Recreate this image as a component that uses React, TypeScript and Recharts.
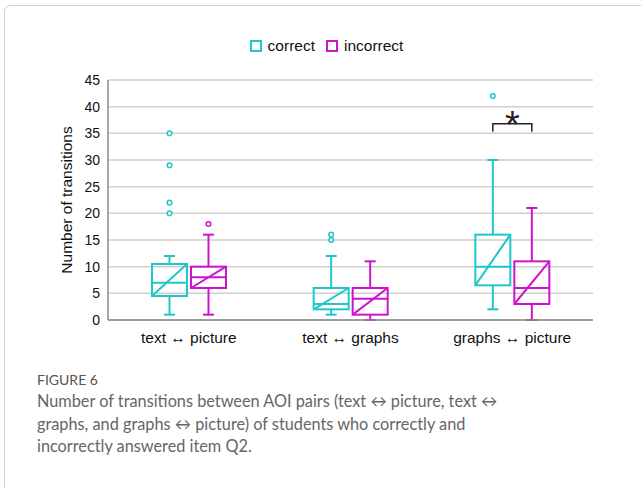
import React from 'react';
import { BarChart, Bar, XAxis, YAxis, CartesianGrid } from 'recharts';

const categories = ['text ↔ picture', 'text ↔ graphs', 'graphs ↔ picture'];

const correctMin = [1, 1, 2];
const correctQ1 = [4.5, 2, 6.5];
const correctMedian = [7, 3, 10];
const correctQ3 = [10.5, 6, 16];
const correctMax = [12, 12, 30];
const correctOutliers = [[20, 22, 29, 35], [15, 16], [42]];

const incorrectMin = [1, 0, 0];
const incorrectQ1 = [6, 1, 3];
const incorrectMedian = [8, 4, 6];
const incorrectQ3 = [10, 6, 11];
const incorrectMax = [16, 11, 21];
const incorrectOutliers = [[18], [], []];

// significance bracket between the two boxes of a category
const significant = [false, false, true];
const bracketValue = 36.8;
const bracketLegValue = 35.3;

const yTicks = [0, 5, 10, 15, 20, 25, 30, 35, 40, 45];

const CYAN = '#1ec8c8';
const MAGENTA = '#cc14cc';
const BAR_GAP = 4;
const FONT = '"Liberation Sans", Arial, Helvetica, sans-serif';

const data = categories.map((name, i) => ({
  name,
  i,
  correct: [correctMin[i], correctMax[i]],
  incorrect: [incorrectMin[i], incorrectMax[i]],
}));

type Stats = {
  min: number[];
  q1: number[];
  median: number[];
  q3: number[];
  max: number[];
  outliers: number[][];
};

function makeBoxShape(color: string, s: Stats, drawBracket: boolean) {
  return (props: any) => {
    const { x, y, width, height, payload } = props;
    const i = payload.i;
    const lo = s.min[i];
    const hi = s.max[i];
    const unit = height / (hi - lo);
    const toY = (v: number) => y + (hi - v) * unit;
    const cx = x + width / 2;
    const cap = 5.5;
    const yQ1 = toY(s.q1[i]);
    const yQ3 = toY(s.q3[i]);
    const yMed = toY(s.median[i]);
    const sw = 2;
    return (
      <g>
        <line x1={cx} x2={cx} y1={toY(hi)} y2={yQ3} stroke={color} strokeWidth={sw} />
        <line x1={cx} x2={cx} y1={yQ1} y2={toY(lo)} stroke={color} strokeWidth={sw} />
        <line x1={cx - cap} x2={cx + cap} y1={toY(hi)} y2={toY(hi)} stroke={color} strokeWidth={sw} />
        <line x1={cx - cap} x2={cx + cap} y1={toY(lo)} y2={toY(lo)} stroke={color} strokeWidth={sw} />
        <rect x={x} y={yQ3} width={width} height={yQ1 - yQ3} fill="none" stroke={color} strokeWidth={sw} />
        <line x1={x} x2={x + width} y1={yMed} y2={yMed} stroke={color} strokeWidth={sw} />
        <line x1={x} x2={x + width} y1={yQ1} y2={yQ3} stroke={color} strokeWidth={sw} />
        {s.outliers[i].map((v, k) => (
          <circle key={k} cx={cx} cy={toY(v)} r={2.3} fill="#fff" stroke={color} strokeWidth={1.5} />
        ))}
        {drawBracket && significant[i] && (() => {
          const left = cx - width - BAR_GAP;
          const yb = toY(bracketValue);
          const yl = toY(bracketLegValue);
          return (
            <g>
              <path
                d={`M${left},${yl} L${left},${yb} L${cx},${yb} L${cx},${yl}`}
                fill="none"
                stroke="#222"
                strokeWidth={1.5}
              />
              <text
                x={(left + cx) / 2}
                y={yb + 14}
                textAnchor="middle"
                fontSize={38}
                fill="#222"
                fontFamily={FONT}
              >
                *
              </text>
            </g>
          );
        })()}
      </g>
    );
  };
}

const correctStats: Stats = {
  min: correctMin,
  q1: correctQ1,
  median: correctMedian,
  q3: correctQ3,
  max: correctMax,
  outliers: correctOutliers,
};

const incorrectStats: Stats = {
  min: incorrectMin,
  q1: incorrectQ1,
  median: incorrectMedian,
  q3: incorrectQ3,
  max: incorrectMax,
  outliers: incorrectOutliers,
};

const series = [
  { key: 'correct', label: 'correct', color: CYAN },
  { key: 'incorrect', label: 'incorrect', color: MAGENTA },
];

export default function App() {
  return (
    <div
      style={{
        position: 'absolute',
        left: 0,
        top: 0,
        width: 641,
        height: 488,
        overflow: 'hidden',
        background: '#fff',
        fontFamily: FONT,
      }}
    >
      <div
        style={{
          position: 'absolute',
          left: 4,
          top: 5,
          width: 700,
          height: 600,
          border: '1.5px solid #cfcfcf',
          borderRadius: 6,
          boxSizing: 'border-box',
        }}
      />

      <div
        style={{
          position: 'absolute',
          top: 37,
          left: 0,
          width: 641,
          display: 'flex',
          justifyContent: 'center',
          gap: 11,
          paddingLeft: 12,
          boxSizing: 'border-box',
          fontSize: 15.5,
          color: '#111',
        }}
      >
        {series.map((s) => (
          <div key={s.key} style={{ display: 'flex', alignItems: 'center' }}>
            <span
              style={{
                display: 'inline-block',
                width: 12,
                height: 12,
                border: `2px solid ${s.color}`,
                boxSizing: 'border-box',
                marginRight: 6,
              }}
            />
            <span>{s.label}</span>
          </div>
        ))}
      </div>

      <div style={{ position: 'absolute', left: 0, top: 0 }}>
        <BarChart
          width={641}
          height={360}
          data={data}
          margin={{ top: 80, right: 48, bottom: 10, left: 60 }}
          barSize={35}
          barGap={BAR_GAP}
          style={{ fontFamily: FONT }}
        >
          <CartesianGrid vertical={false} stroke="#cfcfcf" strokeWidth={1.5} />
          <XAxis
            dataKey="name"
            height={30}
            tickLine={false}
            tickSize={0}
            tickMargin={12}
            axisLine={{ stroke: '#8a8a8a', strokeWidth: 1.5 }}
            tick={{ fontSize: 15.5, fill: '#111', fontFamily: FONT }}
          />
          <XAxis
            xAxisId="top"
            dataKey="name"
            orientation="top"
            height={0}
            tick={false}
            tickLine={false}
            axisLine={{ stroke: '#8a8a8a', strokeWidth: 1.5 }}
          />
          <YAxis
            domain={[0, 45]}
            ticks={yTicks}
            width={48}
            tickLine={false}
            tickSize={0}
            tickMargin={8}
            axisLine={{ stroke: '#8a8a8a', strokeWidth: 1.5 }}
            tick={{ fontSize: 14, fill: '#111', fontFamily: FONT }}
            label={{
              content: (p: any) => {
                const vb = p.viewBox || { x: 60, y: 80, width: 48, height: 240 };
                const lx = vb.x + 6;
                const ly = vb.y + vb.height / 2;
                return (
                  <text
                    x={lx}
                    y={ly}
                    transform={`rotate(-90 ${lx} ${ly})`}
                    textAnchor="middle"
                    dominantBaseline="central"
                    fontSize={15.5}
                    fill="#111"
                    fontFamily={FONT}
                  >
                    Number of transitions
                  </text>
                );
              },
            }}
          />
          <YAxis
            yAxisId="right"
            orientation="right"
            width={0}
            tick={false}
            tickLine={false}
            axisLine={{ stroke: '#8a8a8a', strokeWidth: 1.5 }}
          />
          <Bar
            dataKey="correct"
            name="correct"
            fill={CYAN}
            isAnimationActive={false}
            shape={makeBoxShape(CYAN, correctStats, false)}
          />
          <Bar
            dataKey="incorrect"
            name="incorrect"
            fill={MAGENTA}
            isAnimationActive={false}
            shape={makeBoxShape(MAGENTA, incorrectStats, true)}
          />
        </BarChart>
      </div>

      <div
        style={{
          position: 'absolute',
          left: 37,
          top: 371,
          width: 590,
          fontFamily: 'Lato, "Open Sans", sans-serif',
          color: '#666',
        }}
      >
        <div style={{ fontSize: 14, color: '#555', marginBottom: 2 }}>FIGURE 6</div>
        <div style={{ fontSize: 16.3, lineHeight: '22.5px' }}>
          Number of transitions between AOI pairs (text ↔ picture, text ↔
          <br />
          graphs, and graphs ↔ picture) of students who correctly and
          <br />
          incorrectly answered item Q2.
        </div>
      </div>
    </div>
  );
}
